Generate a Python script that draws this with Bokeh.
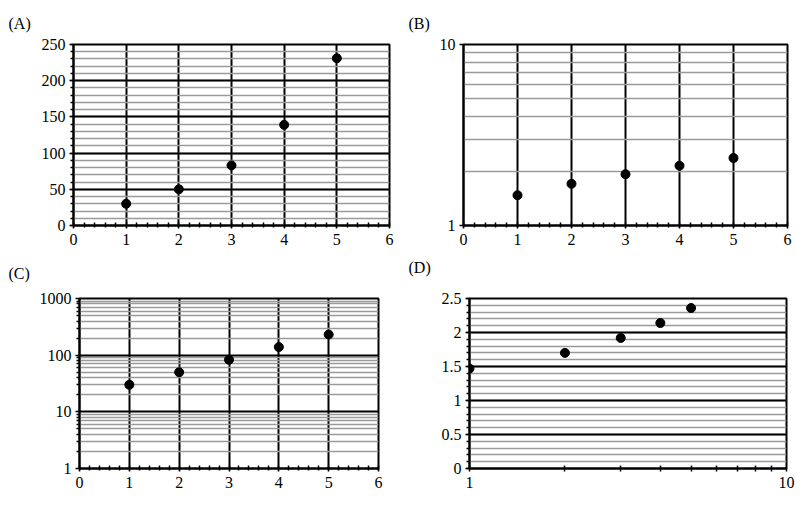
from bokeh.plotting import figure
from bokeh.layouts import column, row
from bokeh.models import Range1d, FixedTicker, SingleIntervalTicker, CustomJSTickFormatter
from bokeh.embed import file_html
from bokeh.resources import INLINE

# ---- data ----
x_vals = [1, 2, 3, 4, 5]
y_values = [30, 50, 83, 139, 231]          # panels A and C
y_logs = [1.47, 1.70, 1.92, 2.14, 2.36]    # panels B and D (log10 of y_values)

log_ticks_B = [1, 10]
log_minor_B = [2, 3, 4, 5, 6, 7, 8, 9]
log_ticks_C = [1, 10, 100, 1000]
log_minor_C = [m * d for d in [1, 10, 100] for m in [2, 3, 4, 5, 6, 7, 8, 9]]
log_ticks_D = [1, 10]
log_minor_D = [2, 3, 4, 5, 6, 7, 8, 9]

FONT = "Liberation Serif"
GREY = "#9a9a9a"
fmt = CustomJSTickFormatter(code="return String(Math.round(tick*1000)/1000)")


def make_fig(label, w, h, bl, br, bt, bb, x_type="linear", y_type="linear",
             xr=(0, 6), yr=(0, 250), title_off=-65, pad_b=6):
    p = figure(width=w, height=h, output_backend="svg", toolbar_location=None,
               x_axis_type=x_type, y_axis_type=y_type,
               x_range=Range1d(*xr), y_range=Range1d(*yr),
               min_border_left=bl, min_border_right=br,
               min_border_top=bt, min_border_bottom=bb)
    p.title.text = label
    p.title.align = "left"
    p.title.offset = title_off
    p.title.text_font = FONT
    p.title.text_font_size = "16px"
    p.title.text_font_style = "normal"
    p.title.text_color = "black"
    p.title.standoff = 8
    p.title.padding = dict(left=0, right=0, top=0, bottom=pad_b)
    p.outline_line_color = "black"
    p.outline_line_width = 2
    p.background_fill_color = "white"
    p.border_fill_color = "white"
    for ax in (p.xaxis[0], p.yaxis[0]):
        ax.axis_line_color = "black"
        ax.axis_line_width = 2
        ax.major_label_text_font = FONT
        ax.major_label_text_font_size = "16px"
        ax.major_label_text_color = "black"
        ax.major_tick_line_color = "black"
        ax.minor_tick_line_color = "black"
        ax.major_tick_line_width = 1.5
        ax.minor_tick_line_width = 1.5
        ax.formatter = fmt
    p.xaxis.major_tick_in = 0
    p.xaxis.major_tick_out = 3
    p.xaxis.minor_tick_in = 3
    p.xaxis.minor_tick_out = 2
    p.xaxis.major_label_standoff = 5
    p.yaxis.major_tick_in = 0
    p.yaxis.major_tick_out = 4
    p.yaxis.minor_tick_in = 0
    p.yaxis.minor_tick_out = 3
    p.yaxis.major_label_standoff = 4
    return p


def style_grids(p, vertical=True):
    p.ygrid.grid_line_color = "black"
    p.ygrid.grid_line_width = 2
    p.ygrid.minor_grid_line_color = GREY
    p.ygrid.minor_grid_line_width = 1.6
    if vertical:
        p.xgrid.grid_line_color = "black"
        p.xgrid.grid_line_width = 2
    else:
        p.xgrid.grid_line_color = None
    p.xgrid.minor_grid_line_color = None


def lin_x(p):
    p.xaxis.ticker = SingleIntervalTicker(interval=1, num_minor_ticks=5)
    p.xgrid.ticker = p.xaxis[0].ticker


# ---- (A) linear/linear ----
pA = make_fig("(A)", 400, 250, 73, 11, 44, 25, yr=(0, 250), title_off=-65, pad_b=9)
lin_x(pA)
pA.yaxis.ticker = SingleIntervalTicker(interval=50, num_minor_ticks=5)
pA.ygrid.ticker = pA.yaxis[0].ticker
style_grids(pA)
pA.scatter(x_vals, y_values, size=9, color="black")

# ---- (B) log y of log values ----
pB = make_fig("(B)", 396, 250, 63, 9, 44, 22, y_type="log", yr=(1, 10), title_off=-55, pad_b=9)
lin_x(pB)
pB.yaxis.ticker = FixedTicker(ticks=log_ticks_B, minor_ticks=log_minor_B)
pB.ygrid.ticker = pB.yaxis[0].ticker
pB.yaxis.minor_tick_out = 0
style_grids(pB)
pB.scatter(x_vals, y_logs, size=9, color="black")

# ---- (C) semi-log ----
pC = make_fig("(C)", 400, 254, 79, 22, 48, 36, y_type="log", yr=(1, 1000), title_off=-71, pad_b=13)
lin_x(pC)
pC.yaxis.ticker = FixedTicker(ticks=log_ticks_C, minor_ticks=log_minor_C)
pC.ygrid.ticker = pC.yaxis[0].ticker
style_grids(pC)
pC.scatter(x_vals, y_values, size=9, color="black")

# ---- (D) log x ----
pD = make_fig("(D)", 396, 254, 69, 10, 46, 27, x_type="log", xr=(1, 10), yr=(0, 2.5), title_off=-61, pad_b=19)
pD.xaxis.ticker = FixedTicker(ticks=log_ticks_D, minor_ticks=log_minor_D)
pD.xgrid.ticker = pD.xaxis[0].ticker
pD.xaxis.minor_tick_in = 3
pD.xaxis.minor_tick_out = 3
pD.yaxis.ticker = SingleIntervalTicker(interval=0.5, num_minor_ticks=5)
pD.ygrid.ticker = pD.yaxis[0].ticker
style_grids(pD, vertical=False)
pD.scatter(x_vals, y_logs, size=9, color="black")

layout = column(row(pA, pB), row(pC, pD))
open("out.html", "w").write(file_html(layout, INLINE))
